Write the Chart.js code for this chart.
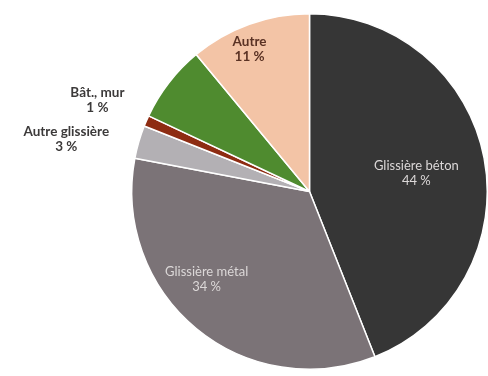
<!doctype html>
<html lang="fr">
<head>
    <title>Obstacles heurtés</title>
    <meta charset="UTF-8" />
    <style>
        html, body { margin: 0; padding: 0; background: #fff; }
        #wrap { width: 488px; height: 376px; }
    </style>
</head>
<body>
<div id="wrap">
    <canvas id="myChart" width="488" height="376"></canvas>
</div>
<script src="https://cdn.jsdelivr.net/npm/chart.js"></script>

<script>
    // obstacle categories and their shares (%)
    const categories = ['Glissière béton', 'Glissière métal', 'Autre glissière', 'Bât., mur', 'Arbre', 'Autre'];
    const shares = [44, 34, 3, 1, 7, 11];
    const sliceColors = ['#363636', '#7b7377', '#b3b0b4', '#8e2c12', '#4f8b2f', '#f3c4a6'];
    // which slices get a label drawn (green one has none)
    const showLabel = [true, true, true, true, false, true];

    // label placement: [angle shift in degrees, distance as fraction of radius], plus style
    const labelStyle = [
        { shift: 1, dist: 0.61, color: '#dcd8d8', bold: false, size: 13 },
        { shift: 10, dist: 0.76, color: '#dcd8d8', bold: false, size: 13 },
        { shift: -4, dist: 1.40, color: '#3c3a3a', bold: true, size: 13.5 },
        { shift: 0, dist: 1.30, color: '#3c3a3a', bold: true, size: 13.5 },
        null,
        { shift: -3, dist: 0.87, color: '#5a3224', bold: true, size: 13.5 }
    ];

    const sliceLabels = {
        id: 'sliceLabels',
        afterDatasetsDraw(chart) {
            const c = chart.ctx;
            const meta = chart.getDatasetMeta(0);
            meta.data.forEach((arc, i) => {
                if (!showLabel[i]) return;
                const st = labelStyle[i];
                const p = arc.getProps(['x', 'y', 'startAngle', 'endAngle', 'outerRadius'], true);
                const mid = (p.startAngle + p.endAngle) / 2 + st.shift * Math.PI / 180;
                const r = p.outerRadius * st.dist;
                const x = p.x + Math.cos(mid) * r;
                const y = p.y + Math.sin(mid) * r;
                c.save();
                c.fillStyle = st.color;
                c.textAlign = 'center';
                c.textBaseline = 'middle';
                c.font = (st.bold ? 'bold ' : '') + st.size + 'px Lato';
                c.fillText(categories[i], x, y - 7.5);
                c.fillText(shares[i] + ' %', x, y + 7.5);
                c.restore();
            });
        }
    };

    const ctx = document.getElementById('myChart');
    const chart = new Chart(ctx, {
        type: 'pie',
        data: {
            labels: categories,
            datasets: [{
                data: shares,
                backgroundColor: sliceColors,
                borderColor: '#ffffff',
                borderWidth: 1.5
            }]
        },
        options: {
            responsive: false,
            animation: false,
            layout: {
                padding: { left: 131, right: -9, top: 11, bottom: 4 }
            },
            plugins: {
                legend: { display: false },
                tooltip: { enabled: false }
            }
        },
        plugins: [sliceLabels]
    });
</script>
</body>
</html>
